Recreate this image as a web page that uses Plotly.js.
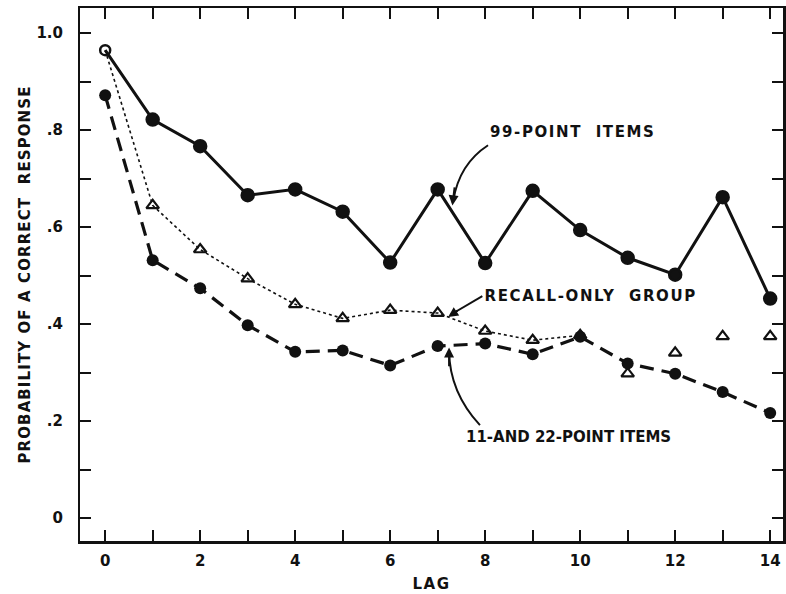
<!DOCTYPE html>
<html>
<head>
<meta charset="utf-8">
<script src="https://cdn.plot.ly/plotly-3.0.1.min.js"></script>
<style>
html,body{margin:0;padding:0;background:#fff}
#chart{width:786px;height:594px}
#chart .annotation-text{letter-spacing:1.6px}
#chart .ytitle{letter-spacing:1.1px}
#chart .xtitle{letter-spacing:1.5px}
</style>
</head>
<body>
<div id="chart"></div>
<script>
// Data
const lags = [0,1,2,3,4,5,6,7,8,9,10,11,12,13,14];
const items99 = [0.965,0.822,0.767,0.666,0.678,0.632,0.527,0.678,0.526,0.675,0.594,0.537,0.502,0.662,0.453];
const items11and22 = [0.872,0.532,0.474,0.398,0.343,0.346,0.315,0.355,0.360,0.338,0.374,0.319,0.298,0.260,0.217];
const recallOnly = [0.965,0.645,0.554,0.494,0.441,0.412,0.429,0.423,0.386,0.367,0.377,0.298,0.341,0.375,0.375];
const recallLineEnd = 10; // dotted line drawn through lag 10 only
const yTickVals = [0,0.2,0.4,0.6,0.8,1.0];
const yTickText = ['0','.2','.4','.6','.8','1.0'];
const xTickVals = [0,2,4,6,8,10,12,14];
const xTickText = ['0','2','4','6','8','10','12','14'];
const S = '\u00a0';

const F = 'DejaVu Sans, sans-serif';
const ink = '#111';

const traces = [
  {
    x: lags.slice(0, recallLineEnd + 1), y: recallOnly.slice(0, recallLineEnd + 1),
    mode: 'lines', line: {color: ink, width: 1.6, dash: 'dot'}, hoverinfo: 'skip'
  },
  {
    x: lags.slice(1), y: recallOnly.slice(1),
    mode: 'markers',
    marker: {symbol: 'triangle-up-open', size: 11, color: ink, line: {width: 2.2, color: ink}}
  },
  {
    x: lags, y: items11and22, mode: 'lines+markers',
    line: {color: ink, width: 3.2, dash: '14px,8px'},
    marker: {symbol: 'circle', size: 12, color: ink}
  },
  {
    x: lags, y: items99, mode: 'lines+markers',
    line: {color: ink, width: 3},
    marker: {symbol: lags.map((l, i) => i === 0 ? 'circle-open' : 'circle'), size: lags.map((l, i) => i === 0 ? 10 : 12), opacity: 1, color: ink, line: {width: 2.5, color: ink}}
  },
  {x: [lags[0]], y: [null], xaxis: 'x2', yaxis: 'y2', mode: 'markers', hoverinfo: 'skip'}
];

const layout = {
  width: 786, height: 594,
  margin: {l: 80, r: 3, t: 8, b: 53},
  paper_bgcolor: '#fff', plot_bgcolor: '#fff',
  showlegend: false,
  font: {family: F, color: ink, size: 15, weight: 'bold'},
  xaxis: {
    range: [-0.53, 14.27], showgrid: false, zeroline: false,
    showline: true, linecolor: ink, linewidth: 2.5, mirror: 'ticks',
    ticks: 'inside', ticklen: 11, tickwidth: 2, tickcolor: ink,
    tickmode: 'linear', tick0: 0, dtick: 1,
    showticklabels: false,
    title: {text: 'LAG', font: {family: F, size: 15, weight: 'bold'}, standoff: 36}
  },
  xaxis2: {
    overlaying: 'x', matches: 'x', range: [-0.53, 14.27], showgrid: false, zeroline: false,
    showline: false, ticks: '', tickmode: 'array', tickvals: xTickVals, ticktext: xTickText,
    tickfont: {family: F, size: 15, weight: 'bold'}, side: 'bottom', anchor: 'y', ticklabelstandoff: 9
  },
  yaxis: {
    range: [-0.047, 1.052], showgrid: false, zeroline: false,
    showline: true, linecolor: ink, linewidth: 2.5, mirror: 'ticks',
    ticks: 'inside', ticklen: 11, tickwidth: 2, tickcolor: ink,
    tickmode: 'linear', tick0: 0, dtick: 0.1,
    showticklabels: false,
    title: {text: 'PROBABILITY' + S + 'OF' + S + 'A' + S + 'CORRECT' + S + S + 'RESPONSE', font: {family: F, size: 15, weight: 'bold'}, standoff: 44}
  },
  yaxis2: {
    overlaying: 'y', matches: 'y', range: [-0.047, 1.052], showgrid: false, zeroline: false,
    showline: false, ticks: '', tickmode: 'array', tickvals: yTickVals, ticktext: yTickText,
    tickfont: {family: F, size: 15, weight: 'bold'}, side: 'left', anchor: 'x', ticklabelstandoff: 16
  },
  shapes: [
    {type: 'path', xref: 'x', yref: 'y', path: 'M 8.06,0.769 Q 7.45,0.73 7.33,0.655', line: {color: ink, width: 2}},
    {type: 'path', xref: 'x', yref: 'y', path: 'M 7.89,0.192 Q 7.25,0.26 7.24,0.345', line: {color: ink, width: 2}},
    {type: 'path', xref: 'x', yref: 'y', path: 'M 7.94,0.458 L 7.28,0.42', line: {color: ink, width: 2}}
  ],
  annotations: [
    {xref: 'paper', yref: 'paper', xanchor: 'center', yanchor: 'middle', x: (572 - 80) / 703, y: (541 - 132) / 533, text: '99-POINT' + S + S + 'ITEMS', showarrow: false, font: {family: F, size: 15, weight: 'bold'}},
    {xref: 'paper', yref: 'paper', xanchor: 'center', yanchor: 'middle', x: (590 - 80) / 703, y: (541 - 296) / 533, text: 'RECALL-ONLY' + S + S + 'GROUP', showarrow: false, font: {family: F, size: 15, weight: 'bold'}},
    {xref: 'paper', yref: 'paper', xanchor: 'center', yanchor: 'middle', x: (568 - 80) / 703, y: (541 - 437) / 533, text: '<span style="letter-spacing:0px">11-AND 22-POINT' + S + 'ITEMS</span>', showarrow: false, font: {family: F, size: 15, weight: 'bold'}},
    {x: 7.31, y: 0.645, xref: 'x', yref: 'y', ax: 7.36, ay: 0.685, axref: 'x', ayref: 'y', showarrow: true, arrowhead: 2, arrowsize: 1, arrowwidth: 2, arrowcolor: ink, text: ''},
    {x: 7.22, y: 0.415, xref: 'x', yref: 'y', ax: 7.45, ay: 0.43, axref: 'x', ayref: 'y', showarrow: true, arrowhead: 2, arrowsize: 1, arrowwidth: 2, arrowcolor: ink, text: ''},
    {x: 7.24, y: 0.352, xref: 'x', yref: 'y', ax: 7.24, ay: 0.31, axref: 'x', ayref: 'y', showarrow: true, arrowhead: 2, arrowsize: 1, arrowwidth: 2, arrowcolor: ink, text: ''}
  ]
};

Plotly.newPlot('chart', traces, layout, {staticPlot: true, displayModeBar: false});
</script>
</body>
</html>
